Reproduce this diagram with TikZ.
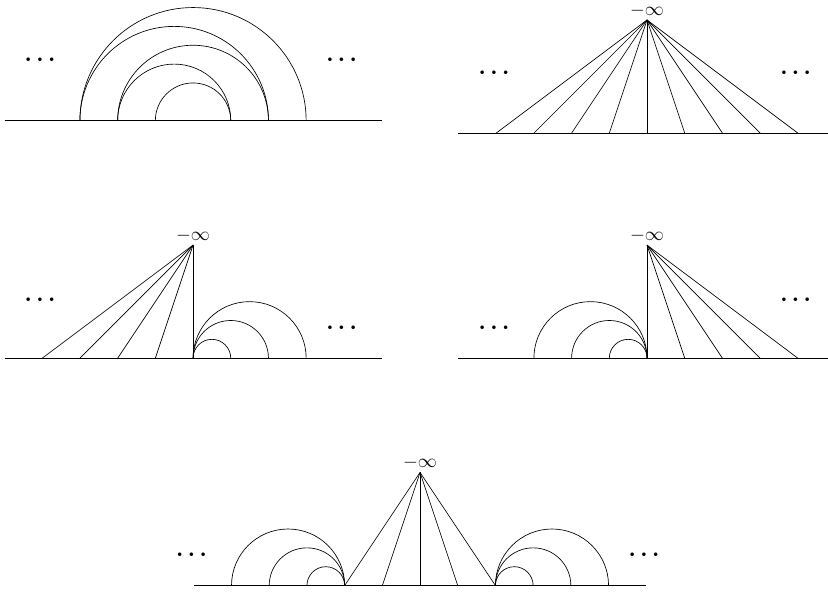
\documentclass[tikz,border=0pt]{standalone}
\usepackage{amsmath,amssymb}
\usepackage{tikz}
\usetikzlibrary{positioning}

\begin{document}
\begin{tikzpicture}[
    edge/.style={line width=0.5pt},
    inf/.style={font=\Large, inner sep=0pt},
    dots/.style={font=\LARGE\boldmath, inner sep=0pt}
  ]
  \useasboundingbox (0,0) rectangle (21.96,-15.68);

  % Nested half circles
  \begin{scope}[shift={(5.12,-3.20)}]
    \draw[edge] (-5,0) -- (5,0);
    \foreach \a/\b in {-3/3,-3/2,-2/2,-2/1,-1/1}
      \draw[edge] (\a,0) arc[start angle=180, end angle=0, radius={(\b-\a)/2}];
    \node[dots] (dotsAl) at (-4,1.6) {$\cdots$};
    \node[dots] (dotsAr) at (4,1.6) {$\cdots$};
  \end{scope}

  % Fan from -infinity
  \begin{scope}[shift={(17.16,-3.53)}]
    \draw[edge] (-5,0) -- (5,0);
    \coordinate (topB) at (0,3);
    \node[inf, above=2pt of topB] (infB) {$-\infty$};
    \foreach \x in {-4,...,4}
      \draw[edge] (topB) -- (\x,0);
    \node[dots] (dotsBl) at (-4,1.6) {$\cdots$};
    \node[dots] (dotsBr) at (4,1.6) {$\cdots$};
  \end{scope}

  % Fan on the left, half circles on the right
  \begin{scope}[shift={(5.12,-9.50)}]
    \draw[edge] (-5,0) -- (5,0);
    \coordinate (topC) at (0,3);
    \node[inf, above=2pt of topC] (infC) {$-\infty$};
    \foreach \x in {-4,...,0}
      \draw[edge] (topC) -- (\x,0);
    \foreach \r in {1,2,3}
      \draw[edge] (0,0) arc[start angle=180, end angle=0, radius=\r/2];
    \node[dots] (dotsCl) at (-4,1.55) {$\cdots$};
    \node[dots] (dotsCr) at (4,0.8) {$\cdots$};
  \end{scope}

  % Half circles on the left, fan on the right
  \begin{scope}[shift={(17.16,-9.50)}]
    \draw[edge] (-5,0) -- (5,0);
    \coordinate (topD) at (0,3);
    \node[inf, above=2pt of topD] (infD) {$-\infty$};
    \foreach \x in {0,...,4}
      \draw[edge] (topD) -- (\x,0);
    \foreach \r in {1,2,3}
      \draw[edge] (0,0) arc[start angle=0, end angle=180, radius=\r/2];
    \node[dots] (dotsDl) at (-4,0.8) {$\cdots$};
    \node[dots] (dotsDr) at (4,1.55) {$\cdots$};
  \end{scope}

  % Fan between two groups of half circles
  \begin{scope}[shift={(11.14,-15.53)}]
    \draw[edge] (-6,0) -- (6,0);
    \coordinate (topE) at (0,3);
    \node[inf, above=2pt of topE] (infE) {$-\infty$};
    \foreach \x in {-2,...,2}
      \draw[edge] (topE) -- (\x,0);
    \foreach \r in {1,2,3} {
      \draw[edge] (-2,0) arc[start angle=0, end angle=180, radius=\r/2];
      \draw[edge] (2,0) arc[start angle=180, end angle=0, radius=\r/2];
    }
    \node[dots] (dotsEl) at (-6,0.8) {$\cdots$};
    \node[dots] (dotsEr) at (6,0.8) {$\cdots$};
  \end{scope}
\end{tikzpicture}
\end{document}
